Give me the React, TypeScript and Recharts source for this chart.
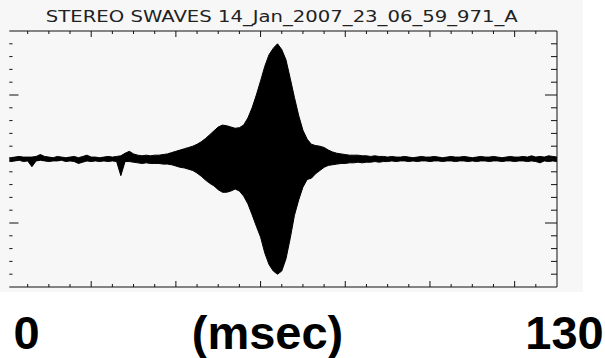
import React from 'react';
import { AreaChart, Area, XAxis, YAxis } from 'recharts';

// Time samples across the 130 ms capture window
const timeMs = Array.from({ length: 131 }, (_, i) => i);

// Upper envelope of the electric-field waveform (arbitrary units)
const upperEnv = [
  3, 2, 3, 4, 3, 3, 3, 4, 7, 4,
  3, 2, 4, 3, 2, 3, 4, 2, 4, 6,
  3, 3, 2, 3, 4, 3, 4, 5, 9, 12,
  8, 6, 5, 6, 5, 6, 6, 7, 8, 10,
  12, 14, 16, 18, 20, 23, 27, 32, 38, 44,
  50, 53, 52, 50, 48, 49, 53, 64, 80, 100,
  122, 145, 163, 173, 180, 171, 155, 126, 96, 68,
  45, 31, 23, 21, 20, 18, 14, 11, 9, 8,
  7, 6, 6, 6, 5, 5, 4, 5, 4, 4,
  3, 4, 3, 3, 4, 3, 2, 3, 4, 3,
  3, 4, 3, 2, 3, 4, 3, 3, 4, 3,
  2, 3, 4, 3, 3, 4, 3, 2, 3, 4,
  3, 3, 4, 3, 5, 3, 4, 3, 5, 4,
  3,
];

// Lower envelope of the same waveform
const lowerEnv = [
  -3, -4, -3, -2, -4, -3, -12, -3, -2, -3,
  -4, -3, -3, -2, -4, -3, -4, -7, -5, -3,
  -4, -3, -4, -3, -4, -3, -4, -26, -4, -4,
  -5, -6, -7, -6, -7, -7, -7, -8, -8, -9,
  -11, -13, -14, -16, -18, -22, -27, -33, -38, -42,
  -48, -52, -52, -50, -47, -50, -58, -70, -87, -105,
  -122, -147, -165, -175, -180, -175, -156, -124, -88, -64,
  -44, -32, -30, -23, -18, -13, -10, -9, -8, -7,
  -7, -6, -6, -5, -6, -5, -5, -4, -5, -4,
  -4, -3, -4, -3, -3, -4, -3, -4, -3, -3,
  -4, -3, -3, -4, -3, -3, -4, -3, -3, -4,
  -3, -4, -3, -3, -4, -3, -3, -4, -3, -3,
  -4, -3, -3, -4, -3, -4, -6, -3, -4, -3,
  -4,
];

// Axis tick values
const xTicks = Array.from({ length: 25 }, (_, i) => (i + 1) * 5); // 5..125 ms
const yTicks = Array.from({ length: 19 }, (_, i) => -180 + i * 20); // -180..180

const titleText = 'STEREO SWAVES 14_Jan_2007_23_06_59_971_A';
const xStartLabel = '0';
const xUnitLabel = '(msec)';
const xEndLabel = '130';

const data = timeMs.map((t, i) => ({ t, band: [lowerEnv[i], upperEnv[i]] }));

const INK = '#111';
const PANEL = '#f7f7f7';

const isMajorX = (v: number) => v % 20 === 0;
const isMajorY = (v: number) => v % 100 === 0;

// Inward-pointing tick marks, drawn at the axis positions supplied by the library
const BottomTick = (p: any) => (
  <line x1={p.x} x2={p.x} y1={p.y} y2={p.y - (isMajorX(p.payload.value) ? 6 : 3)} stroke={INK} strokeWidth={1} />
);
const TopTick = (p: any) => (
  <line x1={p.x} x2={p.x} y1={p.y} y2={p.y + (isMajorX(p.payload.value) ? 6 : 3)} stroke={INK} strokeWidth={1} />
);
const LeftTick = (p: any) => (
  <line x1={p.x} x2={p.x + (isMajorY(p.payload.value) ? 12 : 6)} y1={p.y} y2={p.y} stroke={INK} strokeWidth={1} />
);
const RightTick = (p: any) => (
  <line x1={p.x} x2={p.x - (isMajorY(p.payload.value) ? 12 : 6)} y1={p.y} y2={p.y} stroke={INK} strokeWidth={1} />
);

const axisCommon = {
  tickSize: 0,
  tickMargin: 0,
  tickLine: false,
  interval: 0 as const,
};

const frameLine = { stroke: INK, strokeWidth: 1 };

export default function App() {
  return (
    <div style={{ position: 'absolute', left: 0, top: 0, width: 605, height: 358, background: '#fff' }}>
      <div style={{ position: 'absolute', left: 0, top: 0, width: 583, height: 292, background: PANEL }} />
      <div style={{ position: 'absolute', left: 0, top: 0 }}>
        <AreaChart width={605} height={358} data={data} margin={{ top: 30, right: 47, bottom: 70, left: 5.5 }}>
          <XAxis
            {...axisCommon}
            xAxisId="b"
            dataKey="t"
            type="number"
            domain={[0, 130]}
            ticks={xTicks}
            orientation="bottom"
            height={1}
            tick={BottomTick}
            axisLine={frameLine}
          />
          <XAxis
            {...axisCommon}
            xAxisId="t"
            dataKey="t"
            type="number"
            domain={[0, 130]}
            ticks={xTicks}
            orientation="top"
            height={1}
            tick={TopTick}
            axisLine={frameLine}
          />
          <YAxis
            {...axisCommon}
            yAxisId="l"
            dataKey="band"
            type="number"
            domain={[-200, 200]}
            ticks={yTicks}
            orientation="left"
            width={1}
            tick={LeftTick}
            axisLine={false}
          />
          <YAxis
            {...axisCommon}
            yAxisId="r"
            dataKey="band"
            type="number"
            domain={[-200, 200]}
            ticks={yTicks}
            orientation="right"
            width={1}
            tick={RightTick}
            axisLine={frameLine}
          />
          <Area
            xAxisId="b"
            yAxisId="l"
            dataKey="band"
            type="linear"
            stroke="#000"
            strokeWidth={1}
            fill="#000"
            fillOpacity={1}
            dot={false}
            activeDot={false}
            isAnimationActive={false}
          />
        </AreaChart>
      </div>
      <svg width={605} height={358} style={{ position: 'absolute', left: 0, top: 0, pointerEvents: 'none' }}>
        <rect x={0} y={24} width={9.3} height={268} fill={PANEL} />
        <text
          x={281.8}
          y={21.5}
          textAnchor="middle"
          fontFamily="DejaVu Sans, sans-serif"
          fontSize={15}
          fill="#222"
          textLength={472}
          lengthAdjust="spacingAndGlyphs"
        >
          {titleText}
        </text>
        <g fontFamily="Liberation Sans, Arial, sans-serif" fontWeight="bold" fontSize={47} fill="#000" textAnchor="middle">
          <text x={26.5} y={349}>{xStartLabel}</text>
          <text x={267.5} y={349}>{xUnitLabel}</text>
          <text x={564.5} y={349}>{xEndLabel}</text>
        </g>
      </svg>
    </div>
  );
}
